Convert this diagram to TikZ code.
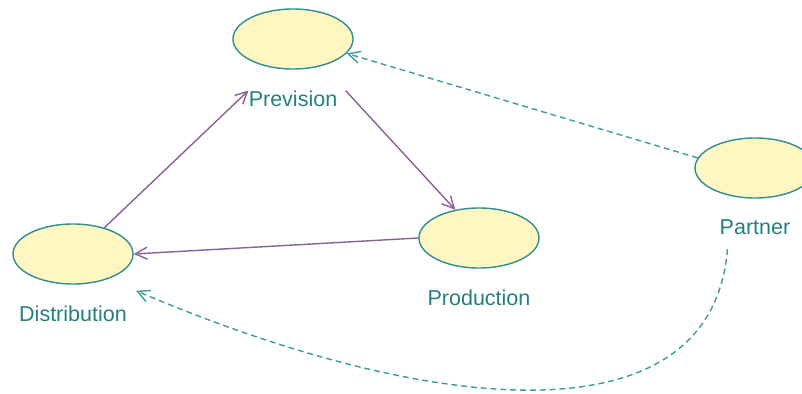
\documentclass[tikz,border=0pt]{standalone}
\usepackage{fontspec}
\setmainfont{Liberation Sans}
\usetikzlibrary{arrows.meta,positioning,shapes.geometric}
\definecolor{casefill}{HTML}{FFF6C2}
\definecolor{caseline}{HTML}{2F8F8F}
\definecolor{flowline}{HTML}{8C5F98}
\definecolor{depline}{HTML}{3A9E9E}
\definecolor{labeltext}{HTML}{23807F}
\newcommand {\usecase}[4] {\node[case] (#1) at (#2,#3) {};\node[caselabel, below=0.52cm of #1] (#1lbl) {#4};}

\begin{document}
\begin{tikzpicture}[x=0.025cm, y=-0.025cm,
	case/.style={ellipse, draw=caseline, fill=casefill, line width=1pt, minimum width=3cm, minimum height=1.5cm, inner sep=0pt},
	caselabel/.style={text=labeltext, inner sep=0pt, font=\fontsize{15.3}{18}\selectfont},
	flow/.style={draw=flowline, line width=1pt, -{Straight Barb[length=0.3cm, width=0.3cm]}},
	dep/.style={flow, draw=depline, dash pattern=on 4.2pt off 2.8pt}]
	\useasboundingbox (0,0) rectangle (802,394);
	\usecase{prev}{293}{39}{Prevision}
	\usecase{dist}{73}{254}{Distribution}
	\usecase{prod}{479}{238}{Production}
	\usecase{part}{755}{168}{Partner}
	\draw[flow] (dist.40) -- (prevlbl.north west);
	\draw[flow] ([xshift=0.2cm]prevlbl.north east) -- (prod.130);
	\draw[flow] (prod.west) -- (dist.east);
	\draw[dep] (part.170) -- (prev.-15);
	\draw[dep] ([shift={(8,14)}]partlbl.south west) .. controls (712,444) and (430,416) .. ([shift={(20,15)}]dist.south east);
\end{tikzpicture}
\end{document}
